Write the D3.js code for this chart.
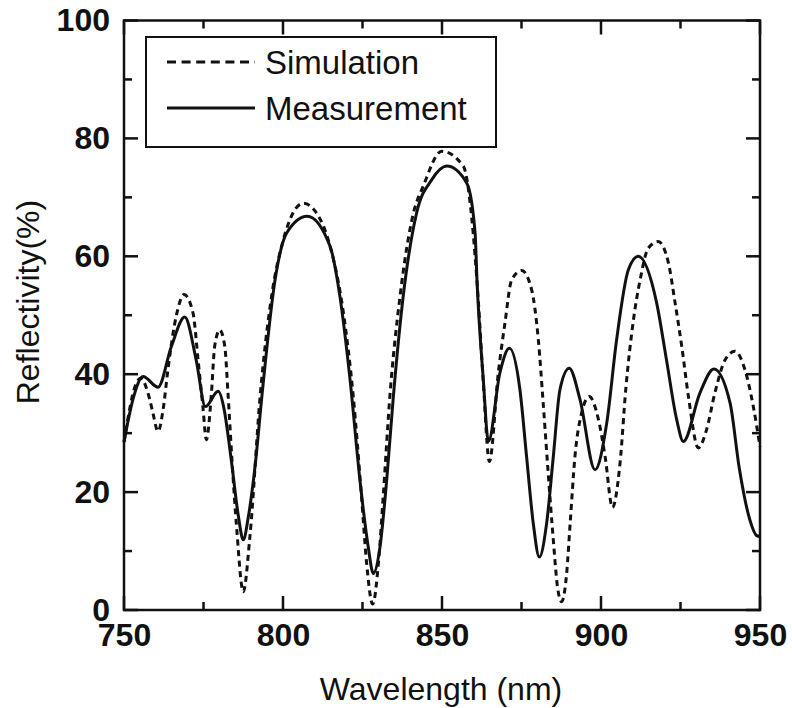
<!DOCTYPE html>
<html>
<head>
<meta charset="utf-8">
<script src="https://cdn.jsdelivr.net/npm/d3@7"></script>
<style>
  body { margin: 0; background: #fff; }
  svg { display: block; font-family: "Liberation Sans", Arial, sans-serif; }
</style>
</head>
<body>
<div id="chart"></div>
<script>
// simulation curve (wavelength nm, reflectivity %)
const simWl = [750, 753.9, 755.2, 758.1, 759.1, 760.7, 762.3, 763.8, 766.4, 768.9, 771.7, 773.3, 774.8, 775.9,
  777.5, 778.5, 780.1, 781.7, 782.7, 784, 785.4, 787.5, 789.6, 792.8, 796.4, 800.1, 806.4, 810.6, 814.8,
  819, 822.1, 824.7, 826.3, 828.2, 830, 831.5, 833.6, 836.8, 841, 844.1, 849.9, 856.7, 859.3, 861.4, 863,
  864.9, 867.7, 869.8, 871.9, 875.1, 878.2, 880.3, 881.9, 883.4, 885, 886.3, 887.6, 889.2, 890.3, 891.8,
  893.9, 896.3, 899.2, 901.3, 903.6, 906, 907.8, 910.2, 912.3, 914.9, 918, 921.2, 923.3, 925.4, 927.5,
  930.6, 933.2, 935.8, 939, 942.1, 945.3, 947.9, 950]
const simR = [28.5, 38.5, 39.3, 35.7, 33.4, 30.3, 34, 40.7, 49.8, 53.5, 50.4, 42.4, 34.5, 28.9,
  36.8, 44.7, 47.5, 44.7, 36.8, 25, 14.1, 3.1, 12.5, 36.2, 53.2, 62.8, 69, 67.3, 61.7,
  50.4, 36.2, 19.2, 7.9, 1, 7.9, 19.2, 36.2, 53.2, 67.3, 71.9, 77.8, 75.3, 66.8, 52.6, 38.5,
  25.2, 40.2, 48.7, 56, 57.6, 54.3, 45.8, 34.5, 23.2, 11.9, 4, 1.4, 6.2, 14.7, 26,
  33.4, 36.2, 32.3, 26, 17.4, 25, 37.5, 49.2, 56, 61.4, 62.5, 58.9, 52.1, 44.7, 36.2,
  27.5, 30.6, 36.8, 42.4, 43.9, 40.7, 34.5, 27.7]

// measurement curve
const measWl = [750, 752.8, 756, 760.7, 764.9, 769.1, 772.7, 775.6, 779.6, 781.5, 783, 784, 786, 787.5,
  789.1, 791.2, 793.5, 797.5, 801.2, 807.6, 814.8, 817.9, 821.1, 824.2, 826.8, 828.4, 830.5, 832.6, 834.7,
  837.8, 842, 846.8, 851.5, 857.8, 860.4, 861, 863, 864.6, 868.2, 871.2, 874.5, 876.6, 878.7, 880.6,
  882.9, 885, 887.1, 890, 893.4, 898.1, 901.8, 904.9, 908.6, 911.7, 917.5, 920.6, 923.8, 925.9, 931.1,
  935.5, 940.6, 943.5, 946.8, 949, 950]
const measR = [28.5, 35.7, 39.6, 37.8, 44.7, 49.7, 42.4, 34.5, 37.1, 34, 28.5, 24.3, 15.8, 11.9,
  15.8, 24.3, 37, 56, 64, 66.8, 61.7, 53.2, 39, 22, 10.7, 6.2, 10.7, 22, 36.2,
  53.2, 67.3, 73, 75.3, 72.4, 64, 56, 39, 28.6, 40.2, 44.4, 37.4, 26, 14.7, 9,
  14.7, 26, 37.4, 41, 35.7, 23.8, 31.7, 45.8, 57.7, 60, 52.1, 42.4, 32.3, 28.6, 36.8,
  40.9, 35.1, 24, 15.3, 12.6, 12.5]

const xMajor = [750, 800, 850, 900, 950]
const xMinor = [775, 825, 875, 925]
const yMajor = [0, 20, 40, 60, 80, 100]
const yMinor = [10, 30, 50, 70, 90]
const legendNames = ['Simulation', 'Measurement']

const W = 792, H = 708
const pLeft = 124, pRight = 760, pTop = 20.5, pBottom = 610

const svg = d3.select('#chart').append('svg')
  .attr('width', W)
  .attr('height', H)

const x = d3.scaleLinear().domain([750, 950]).range([pLeft, pRight])
const y = d3.scaleLinear().domain([0, 100]).range([pBottom, pTop])

const major = 14, minor = 8, tw = 2.5

// frame
svg.append('rect')
  .attr('x', pLeft).attr('y', pTop)
  .attr('width', pRight - pLeft).attr('height', pBottom - pTop)
  .attr('fill', 'none').attr('stroke', '#111').attr('stroke-width', 2.5)

// tick labels from the axes, ticks drawn as small filled bars (inward, on all 4 sides)
const styleAxis = (g) => {
  g.select('.domain').remove()
  g.selectAll('.tick line').remove()
  g.selectAll('text')
    .attr('fill', '#111')
    .style('font-size', '32px')
    .style('font-weight', 'bold')
}

svg.append('g').attr('transform', `translate(0,${pBottom})`)
  .call(d3.axisBottom(x).tickValues(xMajor).tickSize(0).tickPadding(13))
  .call(styleAxis)
svg.append('g').attr('transform', `translate(${pLeft},0)`)
  .call(d3.axisLeft(y).tickValues(yMajor).tickSize(0).tickPadding(14))
  .call(styleAxis)

const tickG = svg.append('g').attr('fill', '#111')
const xTicks = xMajor.map(v => ({ v, len: major })).concat(xMinor.map(v => ({ v, len: minor })))
const yTicks = yMajor.map(v => ({ v, len: major })).concat(yMinor.map(v => ({ v, len: minor })))

tickG.selectAll('.xb').data(xTicks).enter().append('rect')
  .attr('x', d => x(d.v) - tw / 2).attr('y', d => pBottom - d.len)
  .attr('width', tw).attr('height', d => d.len)
tickG.selectAll('.xt').data(xTicks).enter().append('rect')
  .attr('x', d => x(d.v) - tw / 2).attr('y', pTop)
  .attr('width', tw).attr('height', d => d.len)
tickG.selectAll('.yl').data(yTicks).enter().append('rect')
  .attr('x', pLeft).attr('y', d => y(d.v) - tw / 2)
  .attr('width', d => d.len).attr('height', tw)
tickG.selectAll('.yr').data(yTicks).enter().append('rect')
  .attr('x', d => pRight - d.len).attr('y', d => y(d.v) - tw / 2)
  .attr('width', d => d.len).attr('height', tw)

const line = d3.line()
  .x(d => x(d[0]))
  .y(d => y(d[1]))
  .curve(d3.curveMonotoneX)

const simData = simWl.map((w, i) => [w, simR[i]])
const measData = measWl.map((w, i) => [w, measR[i]])

svg.append('path')
  .datum(simData)
  .attr('d', line)
  .attr('fill', 'none')
  .attr('stroke', '#111')
  .attr('stroke-width', 3)
  .attr('stroke-dasharray', '6,4.5')

svg.append('path')
  .datum(measData)
  .attr('d', line)
  .attr('fill', 'none')
  .attr('stroke', '#111')
  .attr('stroke-width', 3)

// legend
const lg = svg.append('g')
lg.append('rect')
  .attr('x', 146).attr('y', 37).attr('width', 350).attr('height', 110)
  .attr('fill', '#fff').attr('stroke', '#111').attr('stroke-width', 2)
legendNames.forEach((name, i) => {
  const ly = 62 + i * 46
  lg.append('line')
    .attr('x1', 167).attr('x2', 255).attr('y1', ly).attr('y2', ly)
    .attr('stroke', '#111').attr('stroke-width', 3)
    .attr('stroke-dasharray', i === 0 ? '9,5.6' : null)
  lg.append('text')
    .attr('x', 265).attr('y', ly + 11.5)
    .attr('fill', '#111')
    .style('font-size', '33px')
    .text(name)
})

// axis titles
svg.append('text')
  .attr('x', 441).attr('y', 700)
  .attr('text-anchor', 'middle')
  .attr('fill', '#111')
  .style('font-size', '32px')
  .text('Wavelength (nm)')

svg.append('text')
  .attr('transform', 'translate(39,302) rotate(-90)')
  .attr('text-anchor', 'middle')
  .attr('fill', '#111')
  .style('font-size', '32px')
  .text('Reflectivity(%)')
</script>
</body>
</html>
